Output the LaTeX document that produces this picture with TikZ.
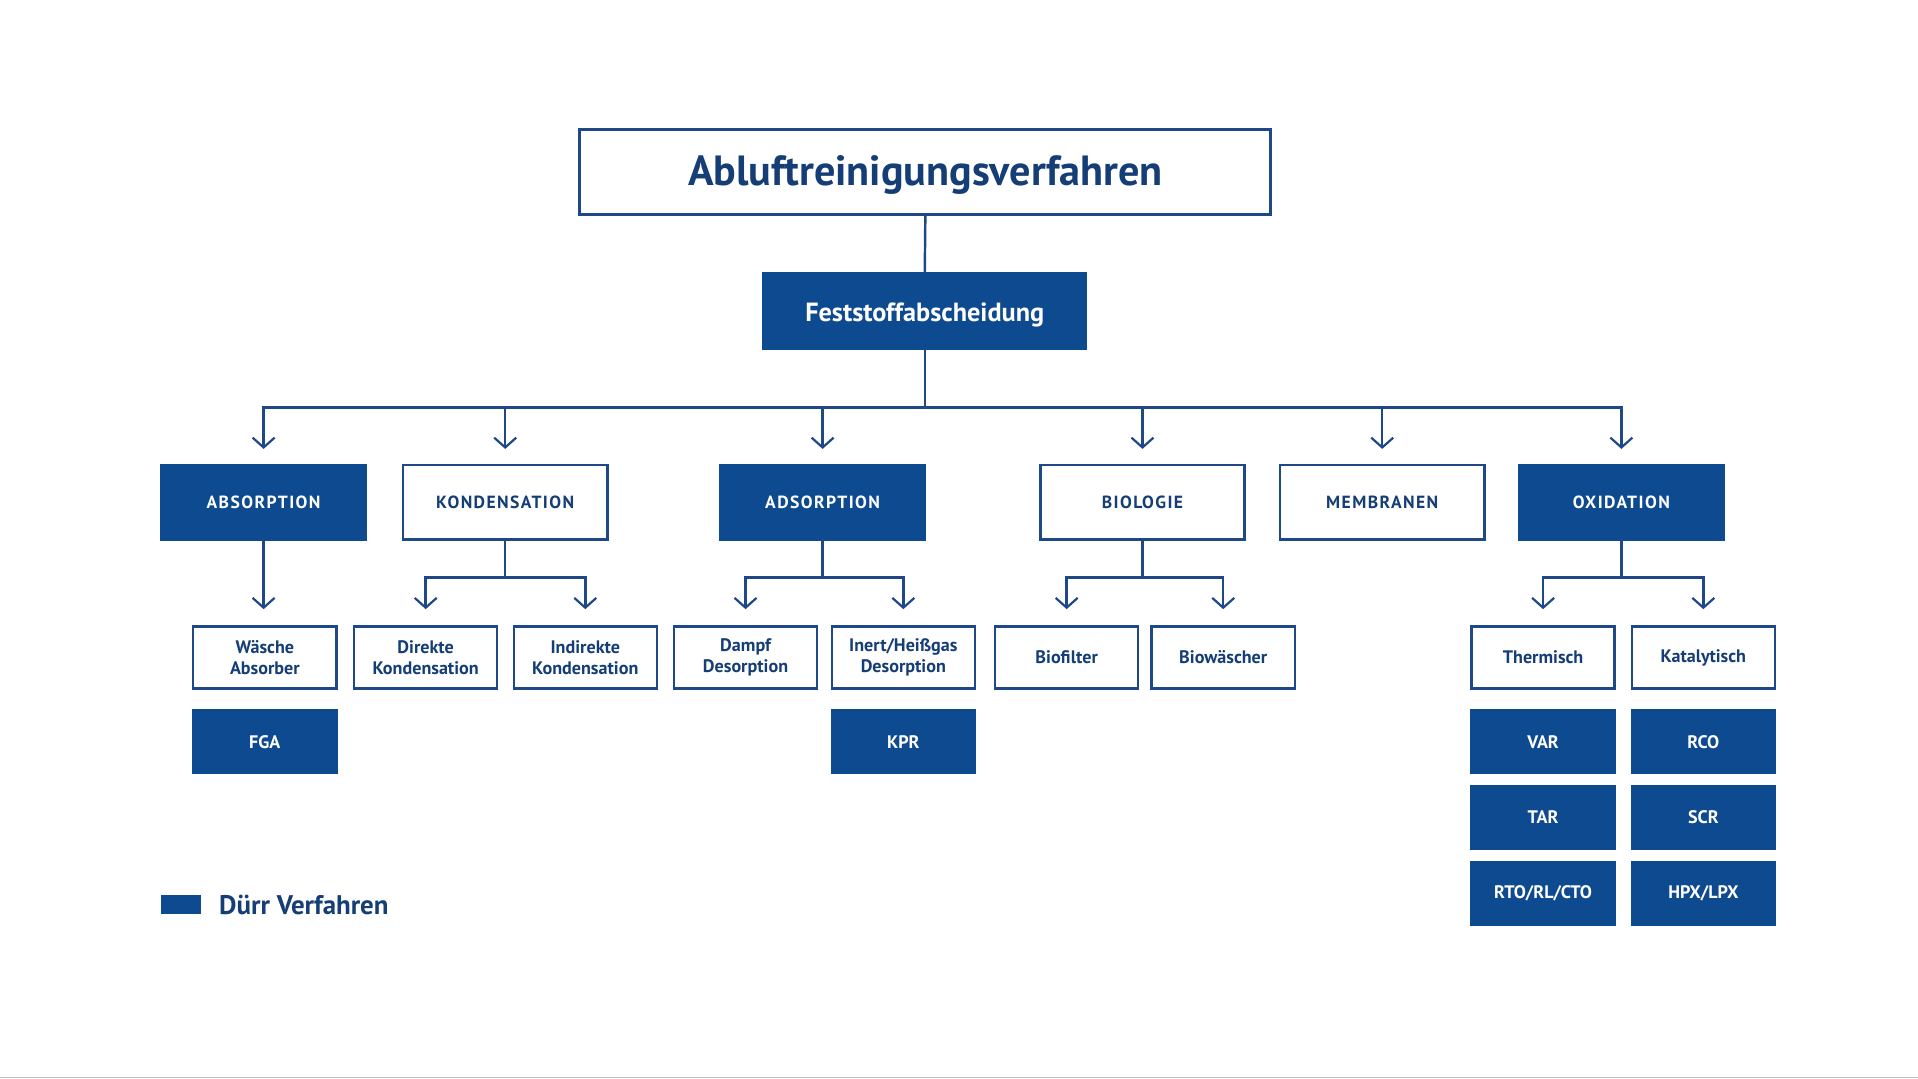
\documentclass[tikz,border=0pt]{standalone}
\usepackage{fontspec}
\setmainfont{PT Sans}
\newfontfamily\capsfont[LetterSpace=8]{PT Sans}
\usetikzlibrary{arrows.meta}
\definecolor{duerr}{RGB}{14,74,143}
\definecolor{navy}{RGB}{22,62,118}
\definecolor{linec}{RGB}{30,72,135}
\tikzset{
  base/.style={inner sep=0pt, outer sep=0pt, line width=2pt},
  filledbox/.style={base, fill=duerr, draw=duerr, text=white, font=\bfseries},
  openbox/.style={base, draw=linec, fill=white, text=navy, font=\bfseries},
  lvtwo/.style={minimum width=167pt, minimum height=61pt, font=\capsfont\bfseries\fontsize{14.4}{16}\selectfont},
  lvthree/.style={minimum width=117pt, minimum height=51pt, align=center, font=\bfseries\fontsize{14.8}{17}\selectfont},
  conn/.style={draw=linec, line width=2pt},
  arr/.style={conn, -{Straight Barb[length=8pt,width=18pt,line width=1.8pt]}},
}
\begin{document}
\begin{tikzpicture}[x=1pt,y=-1pt]
\useasboundingbox (0,0) rectangle (1568,882);
\fill[white] (0,0) rectangle (1568,882);
\draw[black!25, line width=1pt] (0,881) -- (1568,881);

% title
\node[openbox, line width=2.5pt, minimum width=565pt, minimum height=69pt, text height=23pt, text depth=0pt, font=\bfseries\fontsize{34.5}{40}\selectfont] (title) at (756.5,140.5) {Abluftreinigungsverfahren};
\node[filledbox, minimum width=264pt, minimum height=62pt, text height=18pt, text depth=0pt, font=\bfseries\fontsize{21.5}{24}\selectfont] (fest) at (756,254) {Feststoffabscheidung};

% level 2
\node[filledbox, lvtwo] (absorp) at (215.5,410.5) {ABSORPTION};
\node[openbox, lvtwo] (kond) at (413,410.5) {KONDENSATION};
\node[filledbox, lvtwo] (adsorp) at (672.5,410.5) {ADSORPTION};
\node[openbox, lvtwo] (bio) at (934,410.5) {BIOLOGIE};
\node[openbox, lvtwo] (memb) at (1130,410.5) {MEMBRANEN};
\node[filledbox, lvtwo] (oxid) at (1325.5,410.5) {OXIDATION};

% level 3
\node[openbox, lvthree] (wa) at (216.5,537.5) {Wäsche\\Absorber};
\node[openbox, lvthree] (dk) at (348,537.5) {Direkte\\Kondensation};
\node[openbox, lvthree] (ik) at (478.5,537.5) {Indirekte\\Kondensation};
\node[openbox, lvthree] (dd) at (609.5,537.5) {Dampf\\Desorption};
\node[openbox, lvthree] (ihd) at (738.5,537.5) {Inert/Heißgas\\Desorption};
\node[openbox, lvthree] (bf) at (872,537.5) {Biofilter};
\node[openbox, lvthree] (bw) at (1000,537.5) {Biowäscher};
\node[openbox, lvthree] (th) at (1261.5,537.5) {Thermisch};
\node[openbox, lvthree] (ka) at (1392.5,537.5) {Katalytisch};

% level 4
\node[filledbox, lvthree] (fga) at (216.5,606.5) {FGA};
\node[filledbox, lvthree] (kpr) at (738.5,606.5) {KPR};
\node[filledbox, lvthree] (var) at (1261.5,606.5) {VAR};
\node[filledbox, lvthree] (rco) at (1392.5,606.5) {RCO};
\node[filledbox, lvthree] (tar) at (1261.5,668) {TAR};
\node[filledbox, lvthree] (scr) at (1392.5,668) {SCR};
\node[filledbox, lvthree] (rto) at (1261.5,730.5) {RTO/RL/CTO};
\node[filledbox, lvthree] (hpx) at (1392.5,730.5) {HPX/LPX};

% legend
\node[base, fill=duerr, minimum width=33pt, minimum height=15pt] (legbox) at (148,739.5) {};
\node[anchor=west, inner sep=0pt, text=navy, font=\bfseries\fontsize{22}{24}\selectfont] (legtext) at (179,739.5) {Dürr Verfahren};

% connectors
\draw[conn] (title.south) -- (fest.north);
\foreach \t in {absorp,kond,adsorp,bio,memb,oxid}
  \draw[arr, shorten >=13pt] (fest.south) -- ++(0,48) -| (\t.north);
\draw[arr, shorten >=14pt] (absorp.south) -- (absorp.south |- wa.north);
\foreach \p/\a/\b in {kond/dk/ik, adsorp/dd/ihd, bio/bf/bw, oxid/th/ka}{
  \draw[arr, shorten >=14pt] (\p.south) -- ++(0,31) -| (\a.north);
  \draw[arr, shorten >=14pt] (\p.south) -- ++(0,31) -| (\b.north);
}
\end{tikzpicture}
\end{document}
